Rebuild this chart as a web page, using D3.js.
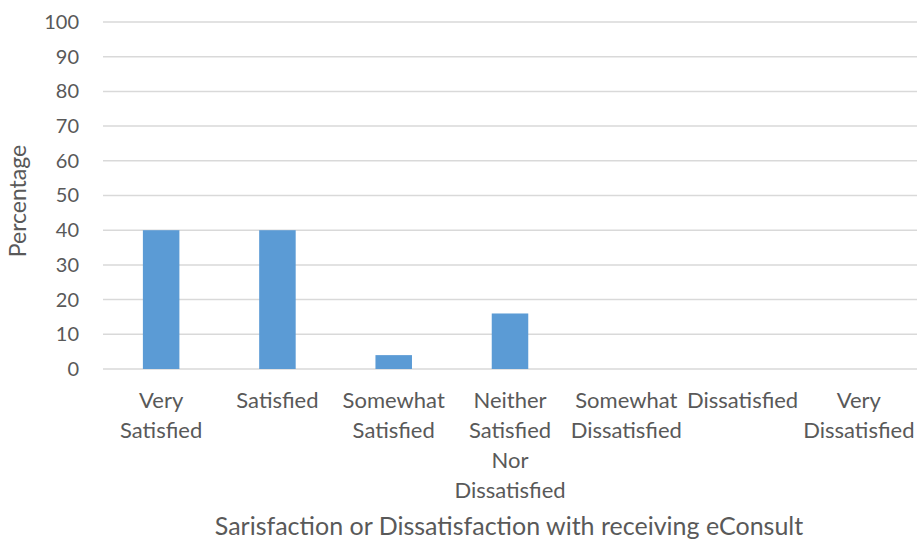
<!DOCTYPE html>
<html>
<head>
<meta charset="utf-8">
<script src="https://cdn.jsdelivr.net/npm/d3@7/dist/d3.min.js"></script>
<style>
  html, body { margin: 0; padding: 0; background: #fff; }
  svg text { font-family: Lato, "Open Sans", sans-serif; fill: #595959; }
</style>
</head>
<body>
<svg id="chart" width="919" height="540"></svg>
<script>
// Satisfaction categories (line breaks mark how each label wraps)
const categories = [
  "Very\nSatisfied",
  "Satisfied",
  "Somewhat\nSatisfied",
  "Neither\nSatisfied\nNor\nDissatisfied",
  "Somewhat\nDissatisfied",
  "Dissatisfied",
  "Very\nDissatisfied"
];
// Share of respondents in each category (%)
const percentages = [40, 40, 4, 16, 0, 0, 0];
const yTicks = [0, 10, 20, 30, 40, 50, 60, 70, 80, 90, 100];
const xTitle = "Sarisfaction or Dissatisfaction with receiving eConsult";
const yTitle = "Percentage";

const svg = d3.select("#chart");
const margin = { left: 103, right: 2, top: 22, bottom: 171 };
const W = 919, H = 540;

const x = d3.scaleBand()
  .domain(categories)
  .range([margin.left, W - margin.right])
  .paddingInner(0.686)
  .paddingOuter(0.343);

const y = d3.scaleLinear()
  .domain([0, 100])
  .range([H - margin.bottom, margin.top]);

// Horizontal gridlines
svg.append("g")
  .selectAll("line")
  .data(yTicks)
  .join("line")
  .attr("x1", margin.left)
  .attr("x2", W - margin.right)
  .attr("y1", d => y(d))
  .attr("y2", d => y(d))
  .attr("stroke", "#d9d9d9")
  .attr("stroke-width", 1.5);

// Y axis tick labels
const yAxis = d3.axisLeft(y).tickValues(yTicks).tickSize(0).tickPadding(24);
const gy = svg.append("g")
  .attr("transform", `translate(${margin.left},0)`)
  .call(yAxis);
gy.select(".domain").remove();
gy.selectAll("text")
  .attr("font-size", 20)
  .style("font-family", "Lato, sans-serif")
  .attr("fill", "#595959");

// Bars
svg.append("g")
  .selectAll("rect")
  .data(categories.map((c, i) => ({ c, v: percentages[i] })))
  .join("rect")
  .attr("x", d => x(d.c))
  .attr("width", x.bandwidth())
  .attr("y", d => y(d.v))
  .attr("height", d => y(0) - y(d.v))
  .attr("fill", "#5b9bd5");

// Category labels, wrapped over several lines
const lab = svg.append("g")
  .selectAll("text")
  .data(categories)
  .join("text")
  .attr("text-anchor", "middle")
  .attr("font-size", 22)
  .attr("transform", d => `translate(${x(d) + x.bandwidth() / 2},${y(0) + 39})`);
lab.each(function(d) {
  d3.select(this).selectAll("tspan")
    .data(d.split("\n"))
    .join("tspan")
    .attr("x", 0)
    .attr("y", (t, i) => i * 30)
    .text(t => t);
});

// Axis titles
svg.append("text")
  .attr("x", (margin.left + W - margin.right) / 2 - 1)
  .attr("y", 535)
  .attr("text-anchor", "middle")
  .attr("font-size", 25)
  .text(xTitle);

svg.append("text")
  .attr("transform", `translate(26,201) rotate(-90)`)
  .attr("text-anchor", "middle")
  .attr("font-size", 23)
  .text(yTitle);
</script>
</body>
</html>
